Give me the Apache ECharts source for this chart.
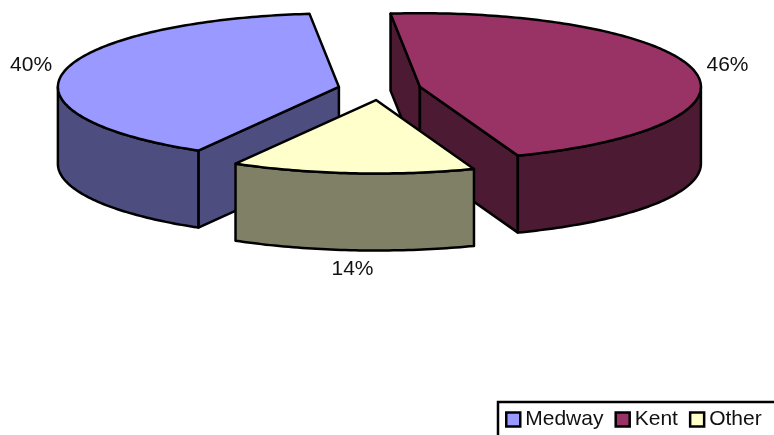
<!DOCTYPE html>
<html>
<head>
<meta charset="utf-8">
<style>html,body{margin:0;padding:0;background:#fff}#chart{width:774px;height:435px}</style>
<script src="https://cdn.jsdelivr.net/npm/echarts@6/dist/echarts.min.js"></script>
</head>
<body>
<div id="chart"></div>
<script>
// Share of total by area
const categories = ['Medway', 'Kent', 'Other'];
const shares = [40, 46, 14];
const topColors = ['#9999FF', '#993366', '#FFFFCC'];
const wallColors = ['#4D4D80', '#4D1A33', '#808066'];

// Pie projection: ellipse radii, extrusion depth and explosion of the slices
const CX = 379.5, CY = 89.2, RX = 281, RY = 73.5, DEPTH = 77, EXPLODE = 0.1477;
const START_DEG = 354 + 165.6 + 50.4; // Medway begins where Other ends
const LABEL_OFFSET = [[-33, -6], [34, -5], [0, 19]];
const FONT = '"Liberation Sans", Arial, sans-serif';
const LINE = { stroke: '#000', lineWidth: 2.5, lineJoin: 'round' };
const rad = d => d * Math.PI / 180;

// Angles run clockwise from twelve o'clock, in the order the slices sit round the pie
function sliceAngles(idx) {
  const total = shares.reduce((a, b) => a + b, 0);
  let from = START_DEG;
  for (let i = 0; i < idx; i++) from += shares[i] / total * 360;
  return [from, from + shares[idx] / total * 360];
}

function rimPoint(c, deg, drop) {
  return [c[0] + RX * Math.sin(rad(deg)), c[1] - RY * Math.cos(rad(deg)) + (drop || 0)];
}

function arcPoints(c, a, b, drop) {
  const pts = [];
  const n = Math.max(2, Math.ceil(Math.abs(b - a)));
  for (let i = 0; i <= n; i++) pts.push(rimPoint(c, a + (b - a) * i / n, drop));
  return pts;
}

function poly(points, fill, z2) {
  return { type: 'polygon', z2, shape: { points }, style: Object.assign({ fill }, LINE) };
}

function renderSlice(params, api) {
  const i = params.seriesIndex;
  const value = api.value(0);
  const [a, b] = sliceAngles(i);
  const mid = (a + b) / 2;
  const c = [CX + EXPLODE * RX * Math.sin(rad(mid)), CY - EXPLODE * RY * Math.cos(rad(mid))];
  const children = [];
  const wall = wallColors[i];

  // Straight cut faces are drawn only when they turn towards the viewer
  const radialWall = deg => {
    const r = rimPoint(c, deg);
    return poly([c, r, [r[0], r[1] + DEPTH], [c[0], c[1] + DEPTH]], wall, 1);
  };
  if (Math.sin(rad(a)) < 0) children.push(radialWall(a));
  if (Math.sin(rad(b)) > 0) children.push(radialWall(b));

  // Outer wall: the part of the rim on the near half of the ellipse
  for (let k = -1; k <= 2; k++) {
    const lo = Math.max(a, 90 + 360 * k), hi = Math.min(b, 270 + 360 * k);
    if (hi > lo) {
      const upper = arcPoints(c, lo, hi, 0);
      const lower = arcPoints(c, hi, lo, DEPTH);
      children.push(poly(upper.concat(lower), wall, 2));
    }
  }

  // Top face
  children.push(poly([c].concat(arcPoints(c, a, b, 0)), topColors[i], 3));

  // Percentage label beside the slice
  const near = Math.cos(rad(mid)) < 0;
  const anchor = rimPoint(c, mid, near ? DEPTH : 0);
  children.push({
    type: 'text', z2: 4,
    style: {
      x: anchor[0] + LABEL_OFFSET[i][0], y: anchor[1] + LABEL_OFFSET[i][1],
      text: value + '%', fill: '#111', font: '21px ' + FONT,
      textAlign: 'center', textVerticalAlign: 'middle'
    }
  });
  return { type: 'group', children };
}

const chart = echarts.init(document.getElementById('chart'), null, { renderer: 'canvas' });
chart.setOption({
  animation: false,
  backgroundColor: '#fff',
  legend: {
    left: 498, top: 402, width: 320, orient: 'horizontal',
    padding: [7, 30, 12, 7],
    itemWidth: 14, itemHeight: 14, itemGap: 11,
    borderColor: '#000', borderWidth: 2.5,
    textStyle: { fontFamily: FONT, fontSize: 21, color: '#111', padding: [2, 0, 0, 0] },
    data: categories.map((name, i) => ({
      name, icon: 'rect',
      itemStyle: { color: topColors[i], borderColor: '#000', borderWidth: 2.5 }
    }))
  },
  series: categories.map((name, i) => ({
    type: 'custom', name, coordinateSystem: 'none', silent: true,
    itemStyle: { color: topColors[i] },
    renderItem: renderSlice,
    data: [[shares[i]]],
    z: 2 + i
  }))
});
</script>
</body>
</html>
